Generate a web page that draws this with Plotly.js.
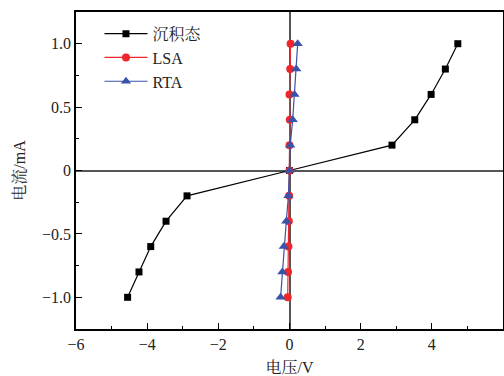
<!DOCTYPE html>
<html>
<head>
<meta charset="utf-8">
<script src="https://cdn.plot.ly/plotly-3.0.1.min.js"></script>
<style>
html,body{margin:0;padding:0;background:#fff;}
#chart{width:504px;height:376px;}
</style>
</head>
<body>
<div id="chart"></div>
<script>
// Data
var seriesNames = ["沉积态", "LSA", "RTA"];
var currentY = [-1.0, -0.8, -0.6, -0.4, -0.2, 0, 0.2, 0.4, 0.6, 0.8, 1.0];
var depositedV = [-4.55, -4.23, -3.90, -3.47, -2.88, 0, 2.88, 3.52, 3.98, 4.38, 4.73];
var lsaV = [-0.05, -0.04, -0.03, -0.02, -0.01, 0, 0.0, 0.01, 0.0, 0.02, 0.03];
var rtaV = [-0.25, -0.2, -0.16, -0.09, -0.03, 0, 0.02, 0.09, 0.14, 0.19, 0.23];
var xTickVals = [-6, -4, -2, 0, 2, 4, 6];
var xTickText = ["\u22126", "\u22124", "\u22122", "0", "2", "4", "6"];
var yTickVals = [-1.0, -0.5, 0, 0.5, 1.0];
var yTickText = ["\u22121.0", "\u22120.5", "0", "0.5", "1.0"];

var fam = "Liberation Serif, Noto Serif CJK SC, serif";

var traces = [
  {x: depositedV, y: currentY, name: seriesNames[0], mode: "lines+markers",
   line: {color: "#000000", width: 1.2},
   marker: {symbol: "square", size: 7, color: "#000000"}},
  {x: lsaV, y: currentY, name: seriesNames[1], mode: "lines+markers",
   line: {color: "#f0262a", width: 1.2},
   marker: {symbol: "circle", size: 8, color: "#f0262a"}},
  {x: rtaV, y: currentY, name: seriesNames[2], mode: "lines+markers",
   line: {color: "#3a52a8", width: 1.2},
   marker: {symbol: "triangle-up", size: 9, color: "#3a52a8"}}
];

var layout = {
  width: 504, height: 376,
  font: {family: fam, size: 16, color: "#222"},
  margin: {l: 76, r: 1, t: 12, b: 47, pad: 0},
  paper_bgcolor: "#ffffff", plot_bgcolor: "#ffffff",
  showlegend: true,
  legend: {x: 0.055, y: 0.985, xanchor: "left", yanchor: "top",
           bgcolor: "rgba(0,0,0,0)", borderwidth: 0, itemwidth: 43,
           font: {family: fam, size: 16, color: "#222"}, tracegroupgap: 0},
  xaxis: {range: [-6, 6], tickvals: xTickVals, ticktext: xTickText,
          ticks: "inside", ticklen: 6, tickwidth: 1, tickcolor: "#000",
          minor: {ticks: "inside", dtick: 1, ticklen: 3, tickcolor: "#000", showgrid: false},
          showline: true, linecolor: "#000", linewidth: 1.5, mirror: true,
          showgrid: false, zeroline: true, zerolinecolor: "#555", zerolinewidth: 2,
          tickfont: {family: fam, size: 16, color: "#222"},
          title: {text: "电压/V", font: {family: fam, size: 16, color: "#222"}, standoff: 10}},
  yaxis: {range: [-1.25, 1.25], tickvals: yTickVals, ticktext: yTickText,
          ticks: "inside", ticklen: 6, tickwidth: 1, tickcolor: "#000",
          minor: {ticks: "inside", dtick: 0.25, ticklen: 3, tickcolor: "#000", showgrid: false},
          showline: true, linecolor: "#000", linewidth: 1.5, mirror: true,
          showgrid: false, zeroline: true, zerolinecolor: "#555", zerolinewidth: 2,
          tickfont: {family: fam, size: 16, color: "#222"},
          title: {text: "电流/mA", font: {family: fam, size: 16, color: "#222"}, standoff: 12}}
};

Plotly.newPlot("chart", traces, layout, {displayModeBar: false});
</script>
</body>
</html>
